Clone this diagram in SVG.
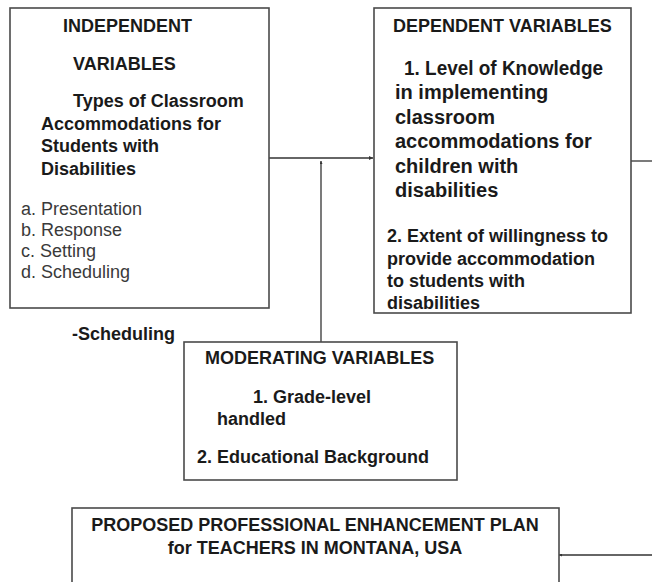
<svg xmlns="http://www.w3.org/2000/svg" width="652" height="582" viewBox="0 0 652 582">
  <style>
    .box { fill: #ffffff; stroke: #4a4a4a; stroke-width: 1.6; }
    .b { font-family: "Liberation Sans", Arial, sans-serif; font-weight: bold; font-size: 18px; fill: #1a1a1a; }
    .b20 { font-family: "Liberation Sans", Arial, sans-serif; font-weight: bold; font-size: 20px; fill: #1a1a1a; }
    .r { font-family: "Liberation Sans", Arial, sans-serif; font-size: 18px; fill: #3a3a3a; }
    .link { fill: none; stroke: #333333; stroke-width: 1.3; }
  </style>
  <defs>
    <marker id="tip" viewBox="0 0 6 6" refX="6" refY="3" markerWidth="5" markerHeight="4" markerUnits="userSpaceOnUse" orient="auto">
      <path d="M0,0 L6,3 L0,6 z" fill="#333333"/>
    </marker>
    <marker id="tick" viewBox="0 0 6 6" refX="6" refY="3" markerWidth="3" markerHeight="3" markerUnits="userSpaceOnUse" orient="auto">
      <path d="M0,0 L6,3 L0,6 z" fill="#333333"/>
    </marker>
  </defs>

  <rect width="652" height="582" fill="#ffffff"/>

  <!-- connectors -->
  <g id="connectors">
    <line class="link" x1="269" y1="158" x2="373" y2="158" marker-end="url(#tip)"/>
    <line class="link" x1="321" y1="342" x2="321" y2="161" marker-end="url(#tick)"/>
    <line class="link" x1="631" y1="161" x2="652" y2="161"/>
    <line class="link" x1="652" y1="555" x2="559" y2="555" marker-end="url(#tick)"/>
  </g>

  <!-- independent variables -->
  <g id="independent">
    <rect class="box" x="10" y="8" width="259" height="300"/>
    <text class="b" x="63" y="32">INDEPENDENT</text>
    <text class="b" x="73" y="70">VARIABLES</text>
    <text class="b" x="73" y="107">Types of Classroom</text>
    <text class="b" x="41" y="130">Accommodations for</text>
    <text class="b" x="41" y="152">Students with</text>
    <text class="b" x="41" y="175">Disabilities</text>
    <text class="r" x="21" y="215">a. Presentation</text>
    <text class="r" x="21" y="236">b. Response</text>
    <text class="r" x="21" y="257">c. Setting</text>
    <text class="r" x="21" y="278">d. Scheduling</text>
  </g>

  <!-- dependent variables -->
  <g id="dependent">
    <rect class="box" x="374" y="8" width="257" height="305"/>
    <text class="b" x="393" y="32">DEPENDENT VARIABLES</text>
    <text class="b20" x="404" y="75" textLength="199" lengthAdjust="spacingAndGlyphs">1. Level of Knowledge</text>
    <text class="b20" x="395" y="99">in implementing</text>
    <text class="b20" x="395" y="123.5">classroom</text>
    <text class="b20" x="395" y="148">accommodations for</text>
    <text class="b20" x="395" y="172.5">children with</text>
    <text class="b20" x="395" y="197">disabilities</text>
    <text class="b" x="387" y="242">2. Extent of willingness to</text>
    <text class="b" x="387" y="264.5">provide accommodation</text>
    <text class="b" x="387" y="287">to students with</text>
    <text class="b" x="387" y="309">disabilities</text>
  </g>

  <!-- free label -->
  <g id="scheduling-note">
    <text class="b" x="72" y="340">-Scheduling</text>
  </g>

  <!-- moderating variables -->
  <g id="moderating">
    <rect class="box" x="184" y="342" width="273" height="138"/>
    <text class="b" x="205" y="364">MODERATING VARIABLES</text>
    <text class="b" x="253" y="403">1. Grade-level</text>
    <text class="b" x="217" y="425">handled</text>
    <text class="b" x="197" y="463">2. Educational Background</text>
  </g>

  <!-- enhancement plan -->
  <g id="plan">
    <rect class="box" x="72" y="508" width="487" height="90"/>
    <text class="b" x="315" y="531" text-anchor="middle">PROPOSED PROFESSIONAL ENHANCEMENT PLAN</text>
    <text class="b" x="315" y="554" text-anchor="middle">for TEACHERS IN MONTANA, USA</text>
  </g>
</svg>
